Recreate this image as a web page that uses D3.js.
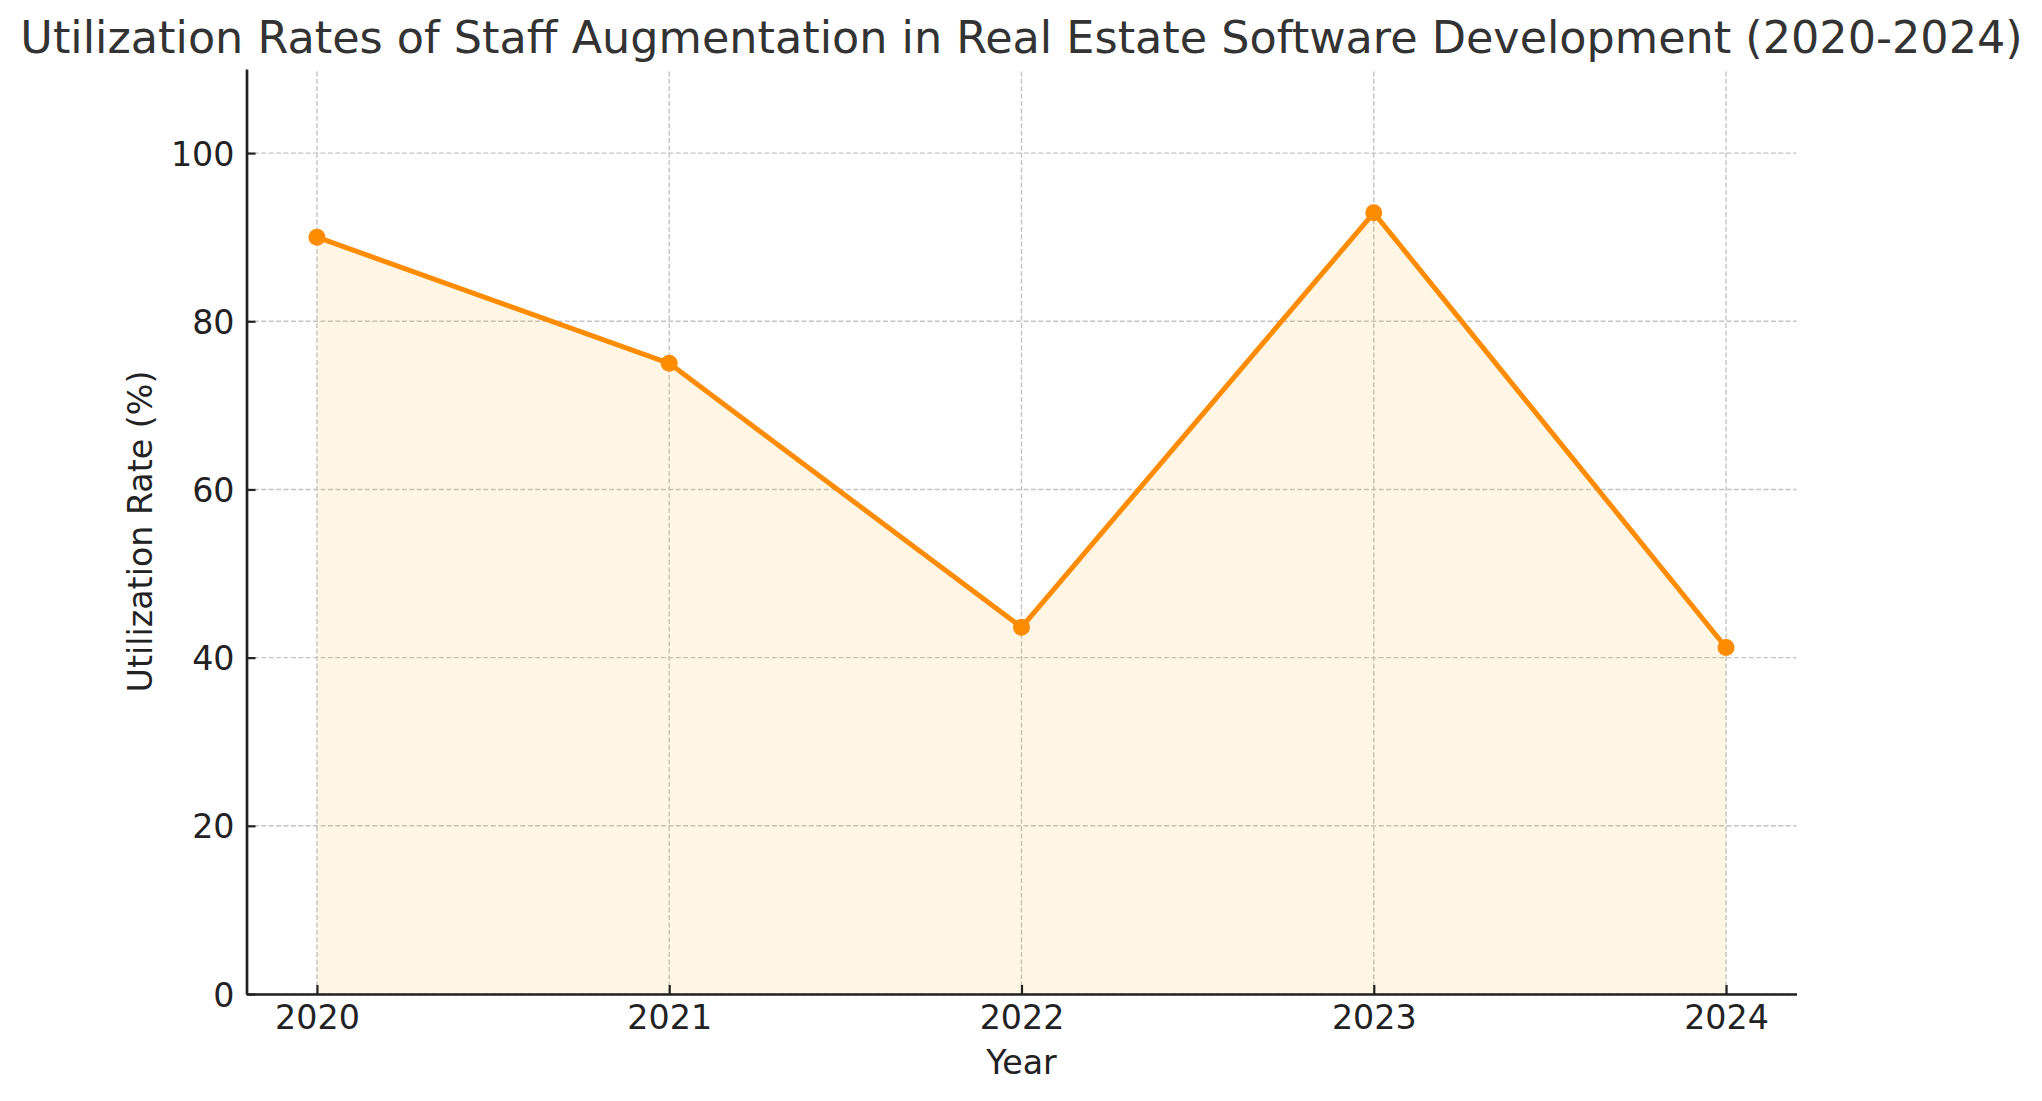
<!DOCTYPE html>
<html>
<head>
<meta charset="utf-8">
<script src="https://cdn.jsdelivr.net/npm/d3@7"></script>
<style>
  html, body { margin: 0; padding: 0; background: #fff; }
  svg { display: block; }
  text { font-family: "DejaVu Sans", sans-serif; }
</style>
</head>
<body>
<svg id="chart" width="2042" height="1101"></svg>
<script>
const years = [2020, 2021, 2022, 2023, 2024];
const rates = [90, 75, 43.6, 92.9, 41.2];
const yTicks = [0, 20, 40, 60, 80, 100];
const titleText = "Utilization Rates of Staff Augmentation in Real Estate Software Development (2020-2024)";
const xLabel = "Year";
const yLabel = "Utilization Rate (%)";

const data = years.map((y, i) => ({ year: y, rate: rates[i] }));

const W = 2042, H = 1101;
const m = { left: 246.5, right: W - 1796.5, top: 69, bottom: H - 994 };

const svg = d3.select("#chart");

const x = d3.scaleLinear().domain([2019.8, 2024.2]).range([m.left, W - m.right]);
const y = d3.scaleLinear().domain([0, 110]).range([H - m.bottom, m.top]);

const grid = svg.append("g");
grid.selectAll("line.vx").data(years).join("line")
  .attr("x1", d => x(d)).attr("x2", d => x(d))
  .attr("y1", y(0)).attr("y2", y(110))
  .attr("stroke", "#c4c4c4").attr("stroke-width", 1.4)
  .attr("stroke-dasharray", "5,2.4");
grid.selectAll("line.hy").data(yTicks).join("line")
  .attr("x1", x(2019.8)).attr("x2", x(2024.2))
  .attr("y1", d => y(d)).attr("y2", d => y(d))
  .attr("stroke", "#c4c4c4").attr("stroke-width", 1.4)
  .attr("stroke-dasharray", "5,2.4");

const area = d3.area().x(d => x(d.year)).y0(y(0)).y1(d => y(d.rate));
svg.append("path").datum(data)
  .attr("d", area)
  .attr("fill", "#ffa500").attr("fill-opacity", 0.1);

const line = d3.line().x(d => x(d.year)).y(d => y(d.rate));
svg.append("path").datum(data)
  .attr("d", line)
  .attr("fill", "none").attr("stroke", "#ff8c00")
  .attr("stroke-width", 5).attr("stroke-linejoin", "round");

svg.selectAll("circle.pt").data(data).join("circle")
  .attr("cx", d => x(d.year)).attr("cy", d => y(d.rate))
  .attr("r", 8.5).attr("fill", "#ff8c00");

// axes
const xAxis = d3.axisBottom(x).tickValues(years).tickFormat(d3.format("d"))
  .tickSizeInner(-9).tickSizeOuter(0).tickPadding(12);
const gx = svg.append("g").attr("transform", `translate(0,${y(0)})`).call(xAxis);
const yAxis = d3.axisLeft(y).tickValues(yTicks).tickFormat(d3.format("d"))
  .tickSizeInner(-9).tickSizeOuter(0).tickPadding(12);
const gy = svg.append("g").attr("transform", `translate(${x(2019.8)},0)`).call(yAxis);

[gx, gy].forEach(g => {
  g.select(".domain").attr("stroke", "#222").attr("stroke-width", 2.7);
  g.selectAll(".tick line").attr("stroke", "#222").attr("stroke-width", 2.2);
  g.selectAll(".tick text").attr("fill", "#222")
    .style("font-size", "33.3px").style("font-family", "DejaVu Sans, sans-serif");
});
gx.selectAll(".tick text").attr("dy", null).attr("y", 35);
gy.selectAll(".tick text").attr("dy", "0.36em");

svg.append("text")
  .attr("x", (x(2019.8) + x(2024.2)) / 2).attr("y", 53)
  .attr("text-anchor", "middle").attr("fill", "#333")
  .style("font-size", "44.5px")
  .text(titleText);

svg.append("text")
  .attr("x", (x(2019.8) + x(2024.2)) / 2).attr("y", 1074)
  .attr("text-anchor", "middle").attr("fill", "#222")
  .style("font-size", "33.3px")
  .text(xLabel);

svg.append("text")
  .attr("transform", `translate(152,${(y(0) + y(110)) / 2}) rotate(-90)`)
  .attr("text-anchor", "middle").attr("fill", "#222")
  .style("font-size", "33.3px")
  .text(yLabel);
</script>
</body>
</html>
